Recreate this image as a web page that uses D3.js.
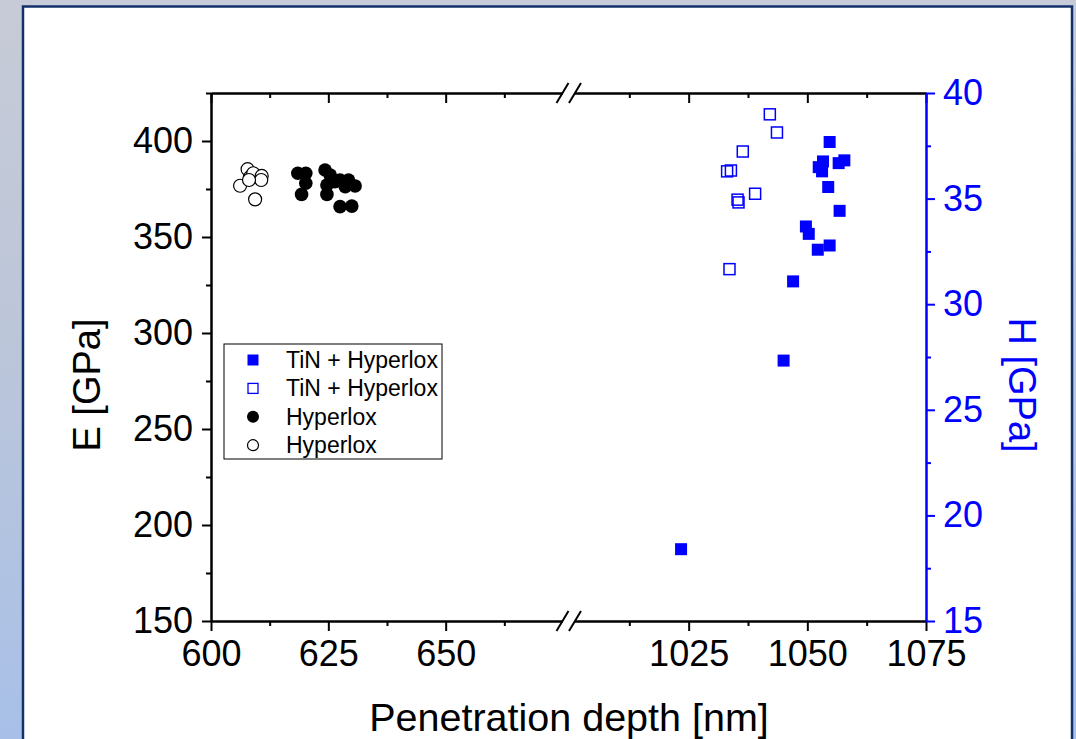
<!DOCTYPE html>
<html>
<head>
<meta charset="utf-8">
<script src="https://cdn.jsdelivr.net/npm/d3@7"></script>
<style>
  body { margin: 0; overflow: hidden; }
  svg text { font-family: "Liberation Sans", Arial, sans-serif; }
</style>
</head>
<body>
<div id="chart"></div>
<script>
// Hyperlox, Young's modulus E (left axis)
const hyperloxSolidDepth = [618.5, 620.2, 620.2, 619.3, 624.3, 625.4, 624.7, 624.7, 627.5, 629.3, 630.7, 628.6, 627.5, 630.0, 626.4];
const hyperloxSolidE     = [383.2, 383.2, 378.0, 372.2, 384.9, 382.3, 377.1, 372.2, 379.7, 379.7, 376.6, 376.2, 365.8, 366.1, 378.8];
const hyperloxOpenDepth  = [607.8, 606.2, 608.3, 609.0, 610.8, 610.7, 609.4, 608.1];
const hyperloxOpenE      = [385.3, 376.7, 381.1, 383.2, 381.8, 379.7, 369.6, 379.7];

// TiN + Hyperlox, hardness H (right axis)
const tinSolidDepth = [1054.7, 1053.3, 1052.4, 1053.1, 1056.6, 1057.8, 1054.4, 1056.8, 1049.7, 1050.3, 1052.2, 1054.7, 1047.0, 1045.0, 1023.4];
const tinSolidH     = [37.68, 36.76, 36.49, 36.29, 36.68, 36.81, 35.55, 34.42, 33.68, 33.33, 32.58, 32.78, 31.08, 27.33, 18.40];
const tinOpenDepth  = [1042.1, 1043.6, 1036.4, 1033.1, 1033.9, 1039.0, 1035.3, 1035.5, 1033.6];
const tinOpenH      = [38.99, 38.13, 37.23, 36.29, 36.33, 35.23, 34.95, 34.82, 31.66];

// Axis ticks
const xTicksLeft = [600, 625, 650];
const xMinorLeft = [612.5, 637.5, 662.5];
const xTicksRight = [1025, 1050, 1075];
const xMinorRight = [1012.5, 1037.5, 1062.5];
const eTicks = [150, 200, 250, 300, 350, 400];
const eMinor = [175, 225, 275, 325, 375, 425];
const hTicks = [15, 20, 25, 30, 35, 40];
const hMinor = [17.5, 22.5, 27.5, 32.5, 37.5];

const legendLabels = ["TiN + Hyperlox", "TiN + Hyperlox", "Hyperlox", "Hyperlox"];

const width = 1076, height = 739;
const plot = { left: 211, right: 926, top: 93, bottom: 621 };
const blue = "#0000ff";
const fmt = d3.format("d");

const svg = d3.select("#chart").append("svg")
    .attr("width", width)
    .attr("height", height);

// Slide-like background
const defs = svg.append("defs");
const grad = defs.append("linearGradient")
    .attr("id", "bg").attr("x1", 0).attr("y1", 0).attr("x2", 0).attr("y2", 1);
grad.append("stop").attr("offset", "0%").attr("stop-color", "#c7cbd7");
grad.append("stop").attr("offset", "45%").attr("stop-color", "#bcc6d9");
grad.append("stop").attr("offset", "100%").attr("stop-color", "#a8c0e8");
svg.append("rect").attr("width", width).attr("height", height).attr("fill", "url(#bg)");
svg.append("rect")
    .attr("x", 23).attr("y", 6.5)
    .attr("width", 1049).attr("height", 800)
    .attr("fill", "#ffffff")
    .attr("stroke", "#14306c")
    .attr("stroke-width", 2.5);

// Scales (broken x axis: two segments)
const xLeft = d3.scaleLinear().domain([600, 675]).range([plot.left, 563]);
const xRight = d3.scaleLinear().domain([1000, 1075]).range([570, plot.right]);
const xPos = v => v < 800 ? xLeft(v) : xRight(v);
const yE = d3.scaleLinear().domain([150, 425]).range([plot.bottom, plot.top]);
const yH = d3.scaleLinear().domain([15, 40]).range([plot.bottom, plot.top]);

function styleAxis(g, color) {
    g.selectAll("path.domain").attr("stroke", color).attr("stroke-width", 2);
    g.selectAll(".tick line").attr("stroke", color).attr("stroke-width", 2);
    g.selectAll(".tick text").attr("fill", color).attr("font-size", 36)
        .attr("font-family", "'Liberation Sans', Arial, sans-serif");
}

function addAxis(axis, tx, ty, color, noText) {
    const g = svg.append("g").attr("transform", `translate(${tx},${ty})`).call(axis);
    styleAxis(g, color);
    if (noText) g.selectAll(".tick text").remove();
    return g;
}

// Bottom axis
[[xLeft, xTicksLeft, xMinorLeft], [xRight, xTicksRight, xMinorRight]].forEach(([sc, major, minor]) => {
    addAxis(d3.axisBottom(sc).tickValues(major).tickSize(10).tickPadding(9).tickSizeOuter(0).tickFormat(fmt),
        0, plot.bottom, "#000");
    addAxis(d3.axisBottom(sc).tickValues(minor).tickSize(5).tickSizeOuter(0).tickFormat(""),
        0, plot.bottom, "#000", true);
    // Top axis, ticks inward
    addAxis(d3.axisTop(sc).tickValues(major).tickSize(-10).tickSizeOuter(0).tickFormat(""),
        0, plot.top, "#000", true);
    addAxis(d3.axisTop(sc).tickValues(minor).tickSize(-5).tickSizeOuter(0).tickFormat(""),
        0, plot.top, "#000", true);
});

// Left axis (E)
addAxis(d3.axisLeft(yE).tickValues(eTicks).tickSize(9).tickPadding(9).tickSizeOuter(0).tickFormat(fmt),
    plot.left, 0, "#000");
addAxis(d3.axisLeft(yE).tickValues(eMinor).tickSize(5).tickSizeOuter(0).tickFormat(""),
    plot.left, 0, "#000", true);

// Right axis (H)
addAxis(d3.axisRight(yH).tickValues(hTicks).tickSize(9).tickPadding(8).tickSizeOuter(0).tickFormat(fmt),
    plot.right, 0, blue);
addAxis(d3.axisRight(yH).tickValues(hMinor).tickSize(5).tickSizeOuter(0).tickFormat(""),
    plot.right, 0, blue, true);

// Axis break marks
[plot.top, plot.bottom].forEach(y => {
    svg.append("rect").attr("x", 563).attr("y", y - 3).attr("width", 12).attr("height", 6).attr("fill", "#fff");
    [562.5, 575].forEach(cx => {
        svg.append("line")
            .attr("x1", cx - 6).attr("y1", y + 10)
            .attr("x2", cx + 6).attr("y2", y - 10)
            .attr("stroke", "#000").attr("stroke-width", 2);
    });
});

// Data: TiN + Hyperlox (squares, H axis)
const zip = (xs, ys) => xs.map((x, i) => ({ x: x, y: ys[i] }));

svg.append("g").selectAll("rect")
    .data(zip(tinSolidDepth, tinSolidH))
    .enter().append("rect")
    .attr("x", d => xPos(d.x) - 6).attr("y", d => yH(d.y) - 6)
    .attr("width", 12).attr("height", 12)
    .attr("fill", blue);

svg.append("g").selectAll("rect")
    .data(zip(tinOpenDepth, tinOpenH))
    .enter().append("rect")
    .attr("x", d => xPos(d.x) - 5.5).attr("y", d => yH(d.y) - 5.5)
    .attr("width", 11).attr("height", 11)
    .attr("fill", "none").attr("stroke", blue).attr("stroke-width", 1.5);

// Data: Hyperlox (circles, E axis)
svg.append("g").selectAll("circle")
    .data(zip(hyperloxSolidDepth, hyperloxSolidE))
    .enter().append("circle")
    .attr("cx", d => xPos(d.x)).attr("cy", d => yE(d.y))
    .attr("r", 6.8).attr("fill", "#000");

svg.append("g").selectAll("circle")
    .data(zip(hyperloxOpenDepth, hyperloxOpenE))
    .enter().append("circle")
    .attr("cx", d => xPos(d.x)).attr("cy", d => yE(d.y))
    .attr("r", 6.5).attr("fill", "#fff").attr("stroke", "#000").attr("stroke-width", 1.2);

// Axis titles
svg.append("text")
    .attr("transform", "translate(100,385) rotate(-90)")
    .attr("text-anchor", "middle")
    .attr("font-size", 38)
    .text("E [GPa]");

svg.append("text")
    .attr("transform", "translate(1009,385) rotate(90)")
    .attr("text-anchor", "middle")
    .attr("font-size", 38)
    .attr("fill", blue)
    .text("H [GPa]");

svg.append("text")
    .attr("x", 569).attr("y", 731)
    .attr("text-anchor", "middle")
    .attr("font-size", 39.5)
    .text("Penetration depth [nm]");

// Legend
const legend = svg.append("g").attr("transform", "translate(224,344)");
legend.append("rect")
    .attr("width", 218).attr("height", 115)
    .attr("fill", "#fff").attr("stroke", "#000").attr("stroke-width", 1);

const legendItem = legend.selectAll(".legend-item")
    .data(legendLabels)
    .enter().append("g")
    .attr("class", "legend-item")
    .attr("transform", (d, i) => `translate(29, ${16 + i * 28.4})`);

legendItem.each(function(d, i) {
    const g = d3.select(this);
    if (i === 0) g.append("rect").attr("x", -5.5).attr("y", -5.5).attr("width", 11).attr("height", 11).attr("fill", blue);
    if (i === 1) g.append("rect").attr("x", -5).attr("y", -5).attr("width", 10).attr("height", 10)
        .attr("fill", "none").attr("stroke", blue).attr("stroke-width", 1.3);
    if (i === 2) g.append("circle").attr("r", 6).attr("fill", "#000");
    if (i === 3) g.append("circle").attr("r", 5.5).attr("fill", "#fff").attr("stroke", "#000").attr("stroke-width", 1.2);
});

legendItem.append("text")
    .attr("x", 33).attr("y", 8)
    .attr("font-size", 23)
    .text(d => d);
</script>
</body>
</html>
